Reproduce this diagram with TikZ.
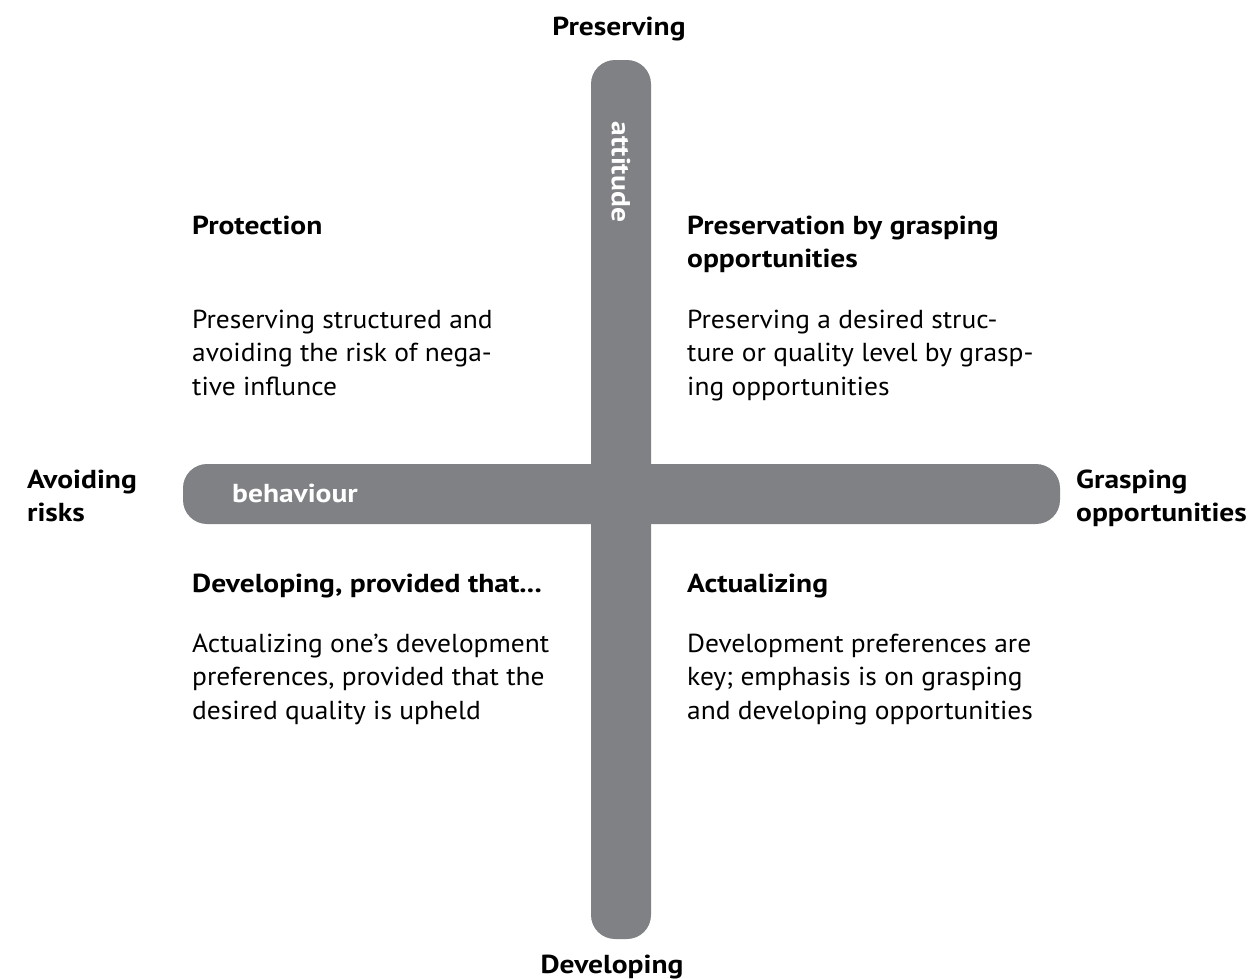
\documentclass[tikz,border=0pt]{standalone}
\usepackage{fontspec}
\setmainfont{PT Sans}[FakeStretch=1.056,BoldFeatures={FakeStretch=1.135}]
\definecolor{bargray}{RGB}{128,129,132}
\begin{document}
\begin{tikzpicture}[x=1pt,y=-1pt,
  bar/.style={fill=bargray,draw=none,rounded corners=24pt},
  txt/.style={anchor=base west,inner sep=0pt,font=\fontsize{26}{33.5}\selectfont},
  ttl/.style={anchor=base west,inner sep=0pt,font=\fontsize{26}{33.5}\selectfont\bfseries},
  axis/.style={inner sep=0pt,font=\fontsize{26}{33.5}\selectfont\bfseries},
  barlbl/.style={inner sep=0pt,text=white,font=\fontsize{26}{33.5}\selectfont\bfseries}]
\useasboundingbox (0,0) rectangle (1253,978);
% bars
\path[bar] (591,60) rectangle (651,939);
\path[bar] (183,464) rectangle (1060,524);
\node[barlbl,anchor=base west] (beh) at (232,502) {behaviour};
\node[barlbl,rotate=-90] (att) at (621,172) {attitude};
% axis labels
\node[axis,anchor=base] (pres) at (619,35) {Preserving};
\node[axis,anchor=base] (dev) at (612,973) {Developing};
\node[axis,anchor=base west] (avo1) at (27,488) {Avoiding};
\node[axis,anchor=base west] (avo2) at (27,521) {risks};
\node[axis,anchor=base west] (gra1) at (1076,488) {Grasping};
\node[axis,anchor=base west] (gra2) at (1076,521) {opportunities};
% upper left
\node[ttl] (ulT) at (192,234) {Protection};
\node[txt] (ul1) at (192,328) {Preserving structured and};
\node[txt] (ul2) at (192,361.5) {avoiding the risk of nega-};
\node[txt] (ul3) at (192,395) {tive influnce};
% upper right
\node[ttl] (urT1) at (687,234) {Preservation by grasping};
\node[ttl] (urT2) at (687,267.5) {opportunities};
\node[txt] (ur1) at (687,328) {Preserving a desired struc-};
\node[txt] (ur2) at (687,361.5) {ture or quality level by grasp-};
\node[txt] (ur3) at (687,395) {ing opportunities};
% lower left
\node[ttl] (llT) at (192,592) {Developing, provided that...};
\node[txt] (ll1) at (192,652) {Actualizing one’s development};
\node[txt] (ll2) at (192,685.5) {preferences, provided that the};
\node[txt] (ll3) at (192,719) {desired quality is upheld};
% lower right
\node[ttl] (lrT) at (687,592) {Actualizing};
\node[txt] (lr1) at (687,652) {Development preferences are};
\node[txt] (lr2) at (687,685.5) {key; emphasis is on grasping};
\node[txt] (lr3) at (687,719) {and developing opportunities};
\end{tikzpicture}
\end{document}
